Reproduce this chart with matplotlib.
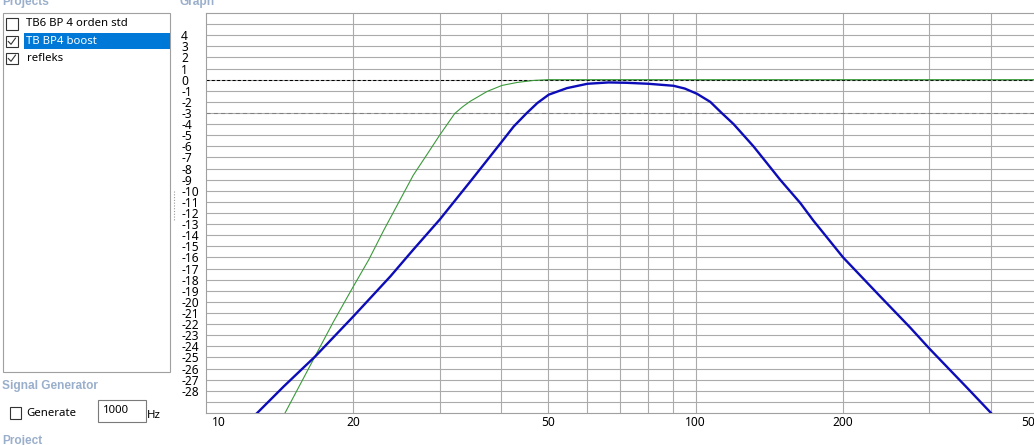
import matplotlib
matplotlib.use("Agg")
import matplotlib.pyplot as plt
import matplotlib.transforms as mtransforms
from matplotlib.patches import Rectangle

plt.rcParams['font.family'] = ['Noto Sans', 'DejaVu Sans']

# ---------------- data ----------------
blue_freq = [12.5, 12.72, 14.42, 16.72, 20, 23.8, 26.5, 30, 34.6, 40.2, 42.5, 45.2, 47.5,
             50.1, 54.6, 60.1, 66.4, 72, 80.1, 90.1, 95, 100.6, 107.1, 113, 119.5, 131.2,
             139.7, 148.7, 163.5, 174, 182.3, 200, 238, 274, 300, 357.7, 400.9, 410]
blue_db = [-30.3, -30.0, -27.6, -24.9, -21.3, -17.7, -15.3, -12.6, -9.2, -5.57, -4.21, -3.0,
           -2.1, -1.35, -0.76, -0.37, -0.25, -0.28, -0.37, -0.55, -0.8, -1.27, -2.0, -3.0,
           -4.0, -6.0, -7.5, -9.0, -11.1, -12.7, -13.8, -16.0, -19.5, -22.3, -24.2, -27.7,
           -30.0, -30.5]

green_freq = [14.3, 14.5, 16.7, 18.2, 20, 21.5, 23.1, 24.5, 26.5, 28.3, 30, 32.2, 33.4,
              34.6, 37.5, 40.2, 43.2, 46.6, 50, 100, 500]
green_db = [-30.4, -30.0, -24.9, -21.8, -18.6, -16.2, -13.5, -11.4, -8.6, -6.7, -5.0, -3.05,
            -2.45, -1.96, -1.06, -0.52, -0.25, -0.07, 0.0, 0.0, 0.0]

ytick_vals = list(range(4, -29, -1))
ytick_labels = [str(v) for v in ytick_vals]
ygrid_extra = [5, -29]
xgrid_vals = [20, 30, 40, 50, 60, 70, 80, 90, 100, 200, 300, 400]
xlabel_vals = [10, 20, 50, 100, 200, 500]
xlabel_text = ['10', '20', '50', '100', '200', '500']

project_names = ['TB6 BP 4 orden std', 'TB BP4 boost', 'refleks']
project_checked = [False, True, True]

# ---------------- figure ----------------
W, H = 1034, 445
fig = plt.figure(figsize=(W / 100, H / 100), dpi=100)
fig.patch.set_facecolor('white')

# overlay in pixel coordinates for UI elements
ui = fig.add_axes([0, 0, 1, 1])
ui.set_xlim(0, W)
ui.set_ylim(H, 0)
ui.axis('off')

hdr_col = '#9AAFCB'
hdr_font = dict(family=['Liberation Sans', 'DejaVu Sans'], fontsize=8.6, fontweight='bold',
                color=hdr_col, va='baseline', ha='left')
fs = 8.2
afs = 8.6
ui.text(2, 4.5, 'Projects', **hdr_font)
ui.text(179, 4.5, 'Graph', **hdr_font)
ui.text(2, 389, 'Signal Generator', **hdr_font)
ui.text(2, 444, 'Project', **hdr_font)

# list box
ui.add_patch(Rectangle((3, 13), 167, 359, fill=False, edgecolor='#A0A0A0', lw=0.8))
row_y = [24, 41.3, 58.3]
for i, (name, chk) in enumerate(zip(project_names, project_checked)):
    cy = row_y[i]
    if i == 1:
        ui.add_patch(Rectangle((24, cy - 8), 146, 16, facecolor='#0078D7', edgecolor='none'))
    ui.add_patch(Rectangle((6, cy - 5.8), 11.5, 11.5, fill=False, edgecolor='#333333', lw=0.8))
    if chk:
        ui.plot([8.3, 11, 15.5], [cy + 0.2, cy + 3, cy - 3.2], color='#333333', lw=0.8)
    ui.text(26.5, cy, name, fontsize=fs, va='center', ha='left',
            color='white' if i == 1 else 'black')

# splitter grip
ui.plot([173.5, 173.5], [191, 220], color='#999999', lw=0.8, dashes=(1, 1.5))

# signal generator
ui.add_patch(Rectangle((9.5, 407), 11.5, 11.5, fill=False, edgecolor='#333333', lw=0.8))
ui.text(26.5, 413, 'Generate', fontsize=fs, va='center', ha='left')
ui.add_patch(Rectangle((98, 400), 48, 22, fill=False, edgecolor='#7A7A7A', lw=0.8))
ui.text(103, 410.5, '1000', fontsize=fs, va='center', ha='left')
ui.text(147, 415, 'Hz', fontsize=fs, va='center', ha='left')

# ---------------- main graph ----------------
left_px, right_px, top_px, bot_px = 206, 1038, 13, 413
ax = fig.add_axes([left_px / W, 1 - bot_px / H, (right_px - left_px) / W, (bot_px - top_px) / H])
ax.set_facecolor('white')
ax.set_xscale('log')
ax.set_xlim(10, 500)
ax.set_ylim(-30, 6)

grid_col = '#ABABAB'
ax.set_yticks(ytick_vals)
ax.set_yticklabels(ytick_labels)
ax.set_yticks(ygrid_extra, minor=True)
ax.set_xticks(xgrid_vals)
ax.set_xticks([], minor=True)
ax.set_xticklabels([])
ax.tick_params(axis='both', which='both', length=0)
ax.tick_params(axis='y', pad=18, labelsize=afs)
for lbl in ax.get_yticklabels():
    lbl.set_horizontalalignment('left')
ax.grid(True, which='both', axis='y', color=grid_col, lw=0.8)
ax.grid(True, which='major', axis='x', color=grid_col, lw=0.8)
ax.set_axisbelow(True)
for s in ax.spines.values():
    s.set_color('#A0A0A0')
    s.set_linewidth(0.8)

# x labels
base = mtransforms.blended_transform_factory(ax.transData, ax.transAxes)
for v, t in zip(xlabel_vals, xlabel_text):
    if v == xlabel_vals[0]:
        tr, ha = mtransforms.offset_copy(base, fig=fig, x=6, y=0, units='dots'), 'left'
    elif v == xlabel_vals[-1]:
        tr, ha = mtransforms.offset_copy(base, fig=fig, x=-6, y=0, units='dots'), 'center'
    else:
        tr, ha = base, 'center'
    ax.text(v, -9 / 400, t, transform=tr, ha=ha, va='center', fontsize=afs, clip_on=False)

# reference lines
ax.axhline(0, color='black', lw=0.75, dashes=(3, 2), zorder=2)
ax.axhline(-3, color='#808080', lw=0.75, dashes=(4, 3), zorder=2)

ax.plot(green_freq, green_db, color='#3A9A3A', lw=0.8, zorder=3)
ax.plot(blue_freq, blue_db, color='#0C0CB8', lw=1.7, zorder=4)

fig.savefig('out.png', dpi=100)
